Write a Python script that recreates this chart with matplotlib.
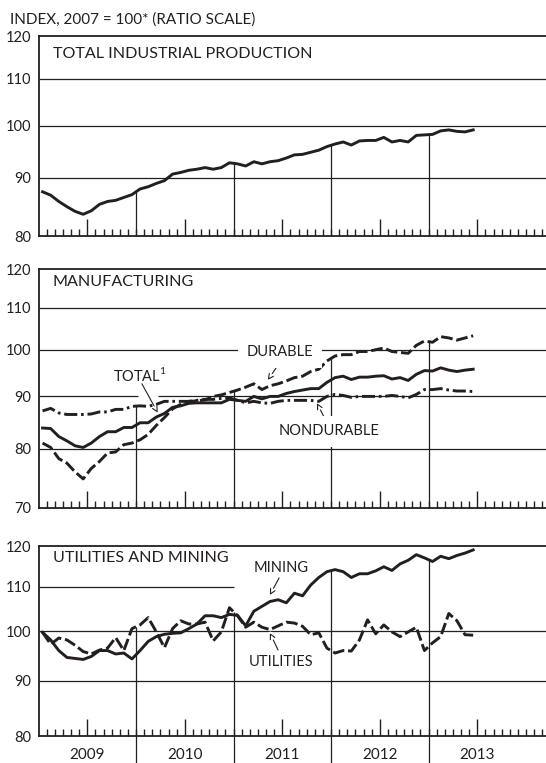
import numpy as np
import matplotlib
matplotlib.use('Agg')
import matplotlib.pyplot as plt
import matplotlib.transforms as mtransforms
import matplotlib.patheffects as pe
from matplotlib.ticker import NullLocator

plt.rcParams['font.family'] = ['Lato', 'DejaVu Sans']

# monthly index values, Jan 2009 - Jun 2013 (2007 = 100)
years = ['2009', '2010', '2011', '2012', '2013']

total_ip = [87.5, 86.9, 85.8, 84.9, 84.1, 83.6, 84.2, 85.3, 85.8, 86.0,
            86.5, 87.0, 88.0, 88.4, 89.0, 89.5, 90.7, 91.0, 91.4, 91.6,
            91.9, 91.6, 91.9, 92.8, 92.6, 92.2, 93.0, 92.6, 93.0, 93.2,
            93.7, 94.3, 94.4, 94.8, 95.2, 95.9, 96.4, 96.8, 96.2, 97.0,
            97.1, 97.1, 97.7, 96.8, 97.1, 96.8, 98.1, 98.2, 98.3, 99.0,
            99.2, 98.9, 98.8, 99.2]

mfg_total = [83.8, 83.7, 82.2, 81.4, 80.5, 80.2, 81.0, 82.2, 83.1, 83.1,
             83.9, 83.9, 84.8, 84.8, 85.9, 86.6, 87.8, 88.1, 88.6, 88.7,
             88.7, 88.7, 88.7, 89.4, 89.2, 89.0, 90.0, 89.5, 90.0, 90.0,
             90.6, 91.0, 91.3, 91.6, 91.6, 92.9, 93.9, 94.2, 93.5, 94.0,
             94.0, 94.2, 94.3, 93.6, 93.9, 93.3, 94.6, 95.4, 95.3, 96.0,
             95.5, 95.2, 95.5, 95.7]

mfg_durable = [81.0, 80.2, 78.2, 77.4, 75.9, 74.7, 76.5, 77.7, 79.2, 79.4,
               80.7, 81.0, 81.6, 82.6, 84.3, 85.8, 87.5, 88.4, 89.0, 89.1,
               89.3, 90.0, 90.3, 90.8, 91.3, 91.9, 92.6, 91.4, 92.2, 92.6,
               93.2, 93.9, 94.2, 95.2, 95.7, 97.5, 98.6, 98.9, 98.9, 99.6,
               99.6, 100.0, 100.4, 99.6, 99.4, 99.2, 101.0, 102.0, 101.7, 103.0,
               102.7, 102.2, 102.7, 103.2]

mfg_nondurable = [87.1, 87.6, 86.7, 86.4, 86.4, 86.4, 86.5, 86.9, 86.9, 87.4,
                  87.4, 88.0, 88.1, 88.0, 88.4, 89.0, 89.0, 89.0, 89.0, 89.2,
                  89.4, 89.4, 89.6, 89.7, 89.2, 88.7, 89.0, 88.7, 88.6, 89.0,
                  89.2, 89.2, 89.2, 89.2, 89.0, 90.0, 90.4, 90.2, 89.8, 90.0,
                  90.0, 90.0, 90.0, 90.2, 90.0, 89.7, 90.4, 91.4, 91.4, 91.6,
                  91.3, 91.1, 91.1, 91.0]

mining = [99.8, 98.2, 96.0, 94.6, 94.4, 94.2, 94.8, 96.0, 96.0, 95.3,
          95.5, 94.3, 96.0, 97.9, 98.9, 99.4, 99.6, 99.7, 100.6, 101.6,
          103.4, 103.4, 103.0, 103.7, 103.5, 101.2, 104.4, 105.5, 106.6, 107.0,
          106.3, 108.5, 107.9, 110.4, 112.2, 113.6, 114.1, 113.6, 112.2, 113.1,
          113.1, 113.8, 114.8, 113.9, 115.5, 116.4, 117.8, 117.0, 116.1, 117.4,
          116.8, 117.6, 118.2, 119.0]

utilities = [99.8, 97.3, 98.6, 98.2, 97.1, 95.8, 95.3, 96.1, 96.5, 98.7,
             96.0, 100.6, 101.4, 103.0, 99.9, 96.6, 100.6, 102.3, 101.6, 101.6,
             102.0, 98.0, 99.9, 105.2, 103.4, 100.9, 102.0, 100.9, 100.4, 101.2,
             102.0, 101.8, 101.1, 99.3, 99.7, 96.5, 95.5, 96.0, 95.9, 98.2,
             102.5, 99.5, 101.4, 99.9, 98.9, 99.9, 100.9, 96.0, 97.6, 98.9,
             103.9, 102.3, 99.3, 99.2]

INK = '#231f20'
W, H = 546, 763
X_LEFT = 38.5
MONTH_PX = 8.125
AXIS_MONTHS = 63

SOLID = dict(color=INK, lw=2.1, solid_joinstyle='round', zorder=3)
DASHED = dict(color=INK, lw=2.1, dashes=(4, 1.3), zorder=3)
DASHDOT = dict(color=INK, lw=2.1, dashes=(4.5, 1.3, 0.9, 1.3), zorder=3)


def make_panel(fig, top_px, bottom_px, ylo, yhi, ticks):
    ax = fig.add_axes([X_LEFT / W, 1 - bottom_px / H,
                       AXIS_MONTHS * MONTH_PX / W, (bottom_px - top_px) / H])
    ax.set_yscale('log')
    ax.set_ylim(ylo, yhi)
    ax.set_xlim(0, AXIS_MONTHS)
    ax.set_yticks(ticks)
    ax.set_yticklabels([str(t) for t in ticks])
    ax.yaxis.set_minor_locator(NullLocator())
    ax.tick_params(axis='y', length=0, pad=5, labelsize=10.5, colors=INK)
    ax.set_xticks(np.arange(6, AXIS_MONTHS, 12))
    ax.set_xticks(np.arange(1, AXIS_MONTHS), minor=True)
    ax.tick_params(axis='x', which='major', direction='in', length=12,
                   width=1.0, color=INK, labelbottom=False)
    ax.tick_params(axis='x', which='minor', direction='in', length=5,
                   width=1.0, color=INK)
    for side in ['left', 'top', 'bottom']:
        ax.spines[side].set_linewidth(1.3)
        ax.spines[side].set_color(INK)
    ax.spines['right'].set_visible(False)
    return ax


def grid_line(ax, y, segments=None):
    if segments is None:
        segments = [(0, AXIS_MONTHS)]
    for x0, x1 in segments:
        ax.hlines(y, x0, x1, color=INK, lw=0.9, zorder=1)


def year_lines(ax, series_list):
    pos = np.arange(len(series_list[0])) + 0.5
    for b in range(12, 60, 12):
        top = max(np.interp(b, pos, s) for s in series_list)
        ax.vlines(b, ax.get_ylim()[0], top, color=INK, lw=0.9, zorder=1)


def label(ax, text, x, y, **kw):
    ax.text(x, y, text, transform=ax.transAxes, fontsize=10.5, color=INK,
            ha='center', va='center', zorder=4, **kw)


def arrow(ax, tail, tip):
    ax.annotate('', xy=tip, xytext=tail, xycoords='axes fraction',
                textcoords='axes fraction', zorder=2,
                arrowprops=dict(arrowstyle='->', lw=0.8, color=INK,
                                shrinkA=0, shrinkB=0, mutation_scale=9,
                                path_effects=[pe.withStroke(linewidth=3.5, foreground='white')]))


fig = plt.figure(figsize=(W / 100, H / 100), dpi=100)
fig.text(10 / W, 1 - 20 / H, 'INDEX, 2007 = 100* (RATIO SCALE)', fontsize=11,
         color=INK, ha='left', va='center')

x = np.arange(len(total_ip)) + 0.5

# total industrial production
ax1 = make_panel(fig, 36, 236, 80, 120, [80, 90, 100, 110, 120])
for g in [90, 100, 110]:
    grid_line(ax1, g)
year_lines(ax1, [total_ip])
ax1.plot(x, total_ip, **SOLID)
ax1.text(0.028, 0.91, 'TOTAL INDUSTRIAL PRODUCTION', transform=ax1.transAxes,
         fontsize=11.6, color=INK, ha='left', va='center')

# manufacturing
ax2 = make_panel(fig, 269, 507.7, 70, 120, [70, 80, 90, 100, 110, 120])
grid_line(ax2, 80)
grid_line(ax2, 90, [(0, 12.25), (14.7, AXIS_MONTHS)])
grid_line(ax2, 100)
grid_line(ax2, 110)
year_lines(ax2, [mfg_total, mfg_durable, mfg_nondurable])
ax2.plot(x, mfg_total, **SOLID)
ax2.plot(x, mfg_durable, **DASHED)
ax2.plot(x, mfg_nondurable, **DASHDOT)
ax2.text(0.028, 0.946, 'MANUFACTURING', transform=ax2.transAxes,
         fontsize=11.6, color=INK, ha='left', va='center')
label(ax2, 'DURABLE', 0.472, 0.652,
      bbox=dict(boxstyle='square,pad=0.6', fc='white', ec='none'))
arrow(ax2, (0.472, 0.610), (0.448, 0.535))
label(ax2, r'TOTAL$^{\mathregular{1}}$', 0.198, 0.556)
arrow(ax2, (0.202, 0.519), (0.233, 0.398))
label(ax2, 'NONDURABLE', 0.568, 0.320,
      bbox=dict(boxstyle='square,pad=0.6', fc='white', ec='none'))
arrow(ax2, (0.560, 0.371), (0.544, 0.438))

# utilities and mining
ax3 = make_panel(fig, 546, 736, 80, 120, [80, 90, 100, 110, 120])
grid_line(ax3, 90)
grid_line(ax3, 100)
grid_line(ax3, 110, [(0, 24)])
year_lines(ax3, [mining, utilities])
ax3.plot(x, mining, **SOLID)
ax3.plot(x, utilities, **DASHED)
ax3.text(0.028, 0.937, 'UTILITIES AND MINING', transform=ax3.transAxes,
         fontsize=11.6, color=INK, ha='left', va='center')
label(ax3, 'MINING', 0.474, 0.884)
arrow(ax3, (0.470, 0.832), (0.452, 0.742))
label(ax3, 'UTILITIES', 0.474, 0.389)
arrow(ax3, (0.468, 0.453), (0.452, 0.542))

blend = mtransforms.blended_transform_factory(ax3.transData, ax3.transAxes)
for k, yr in enumerate(years):
    ax3.text(6 + 12 * k, -0.1, yr, transform=blend, fontsize=11, color=INK,
             ha='center', va='center')
for b in range(12, 60, 12):
    ax3.plot([b, b], [0, -0.16], transform=blend, color=INK, lw=0.9,
             clip_on=False)

fig.savefig('out.png', dpi=100)
